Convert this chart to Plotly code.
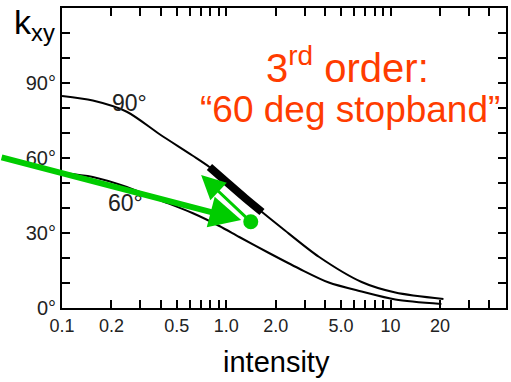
import math
import plotly.graph_objects as go

# --- data ---
curve90_x = [0.1, 0.154, 0.248, 0.393, 0.622, 0.789, 1.0, 1.3, 1.65, 2.18, 3.66, 6.67, 10.7, 21.0]
curve90_y = [84.8, 83.0, 78.5, 69.5, 61.0, 56.4, 50.5, 44.0, 38.4, 32.0, 20.5, 10.4, 6.2, 3.6]
curve60_x = [0.1, 0.154, 0.248, 0.393, 0.622, 0.908, 1.2, 1.82, 2.77, 4.21, 6.67, 10.7, 20.4]
curve60_y = [54.0, 52.4, 48.4, 43.2, 38.0, 32.8, 28.4, 22.0, 15.8, 10.2, 6.6, 3.4, 1.6]
stopband_x = [0.79, 1.0, 1.3, 1.65]
stopband_y = [56.4, 50.5, 44.0, 38.4]
dot_x = [1.41]
dot_y = [34.5]
long_arrow_tail = (0.042, 60.4)
long_arrow_head = (1.233, 35.2)
short_arrow_head = (0.703, 53.2)

x_tickvals = [0.1, 0.2, 0.3, 0.4, 0.5, 0.6, 0.7, 0.8, 0.9, 1, 2, 3, 4, 5, 6, 7, 8, 9, 10, 20, 30, 40]
x_labels = {0.1: "0.1", 0.2: "0.2", 0.5: "0.5", 1: "1.0", 2: "2.0", 5: "5.0", 10: "10", 20: "20"}
y_tickvals = list(range(0, 121, 10))
y_labels = {0: "0°", 30: "30°", 60: "60°", 90: "90°"}

TXT = "#ff3c00"
GREEN = "#00cc00"
FONT = "Liberation Sans, Arial, sans-serif"

fig = go.Figure()
fig.add_trace(go.Scatter(x=curve90_x, y=curve90_y, mode="lines", line=dict(color="black", width=2, shape="spline", smoothing=0.8)))
fig.add_trace(go.Scatter(x=curve60_x, y=curve60_y, mode="lines", line=dict(color="black", width=2, shape="spline", smoothing=0.8)))
fig.add_trace(go.Scatter(x=stopband_x, y=stopband_y, mode="lines", line=dict(color="black", width=8, shape="spline")))
fig.add_trace(go.Scatter(x=dot_x, y=dot_y, mode="markers", marker=dict(color=GREEN, size=15), cliponaxis=False))

ann = []
ann.append(dict(x=math.log10(0.258), y=82, xref="x", yref="y", text="90°", showarrow=False,
                font=dict(size=23, color="#222", family=FONT)))
ann.append(dict(x=math.log10(0.244), y=42, xref="x", yref="y", text="60°", showarrow=False,
                font=dict(size=23, color="#222", family=FONT)))
ann.append(dict(x=math.log10(long_arrow_head[0]), y=long_arrow_head[1], xref="x", yref="y",
                ax=math.log10(long_arrow_tail[0]), ay=long_arrow_tail[1], axref="x", ayref="y",
                showarrow=True, arrowhead=2, arrowsize=1.05, arrowwidth=6, arrowcolor=GREEN, text=""))
ann.append(dict(x=math.log10(short_arrow_head[0]), y=short_arrow_head[1], xref="x", yref="y",
                ax=math.log10(dot_x[0]), ay=dot_y[0], axref="x", ayref="y",
                showarrow=True, arrowhead=2, arrowsize=1.6, arrowwidth=3, arrowcolor=GREEN, text=""))
ann.append(dict(x=0.6435, y=0.81, xref="paper", yref="paper", xanchor="center", yanchor="middle",
                text="3<sup>rd</sup> order:", showarrow=False,
                font=dict(size=40, color=TXT, family=FONT)))
ann.append(dict(x=0.648, y=0.663, xref="paper", yref="paper", xanchor="center", yanchor="middle",
                text="“60 deg stopband”", showarrow=False,
                font=dict(size=37, color=TXT, family=FONT)))
ann.append(dict(x=-0.0628, y=0.945, xref="paper", yref="paper", xanchor="center", yanchor="middle",
                text="k<sub>xy</sub>", showarrow=False,
                font=dict(size=34, color="black", family=FONT)))
ann.append(dict(x=0.483, y=-0.18, xref="paper", yref="paper", xanchor="center", yanchor="middle",
                text="intensity", showarrow=False,
                font=dict(size=29, color="black", family=FONT)))

fig.update_layout(
    width=511, height=382, margin=dict(l=62, r=3, t=8, b=74),
    paper_bgcolor="white", plot_bgcolor="white", showlegend=False,
    annotations=ann,
    xaxis=dict(type="log", range=[-1, 1.703], showgrid=False, zeroline=False,
               showline=True, linecolor="black", linewidth=2, mirror="ticks",
               ticks="inside", ticklen=8, tickwidth=2, tickcolor="black",
               tickvals=x_tickvals, ticktext=[x_labels.get(v, "") for v in x_tickvals],
               tickfont=dict(size=18, color="#222", family=FONT)),
    yaxis=dict(range=[0, 120], showgrid=False, zeroline=False,
               showline=True, linecolor="black", linewidth=2, mirror="ticks",
               ticks="inside", ticklen=8, tickwidth=2, tickcolor="black",
               tickvals=y_tickvals, ticktext=[y_labels.get(v, "") for v in y_tickvals],
               tickfont=dict(size=20, color="#222", family=FONT)),
)
fig.write_html("out.html")
